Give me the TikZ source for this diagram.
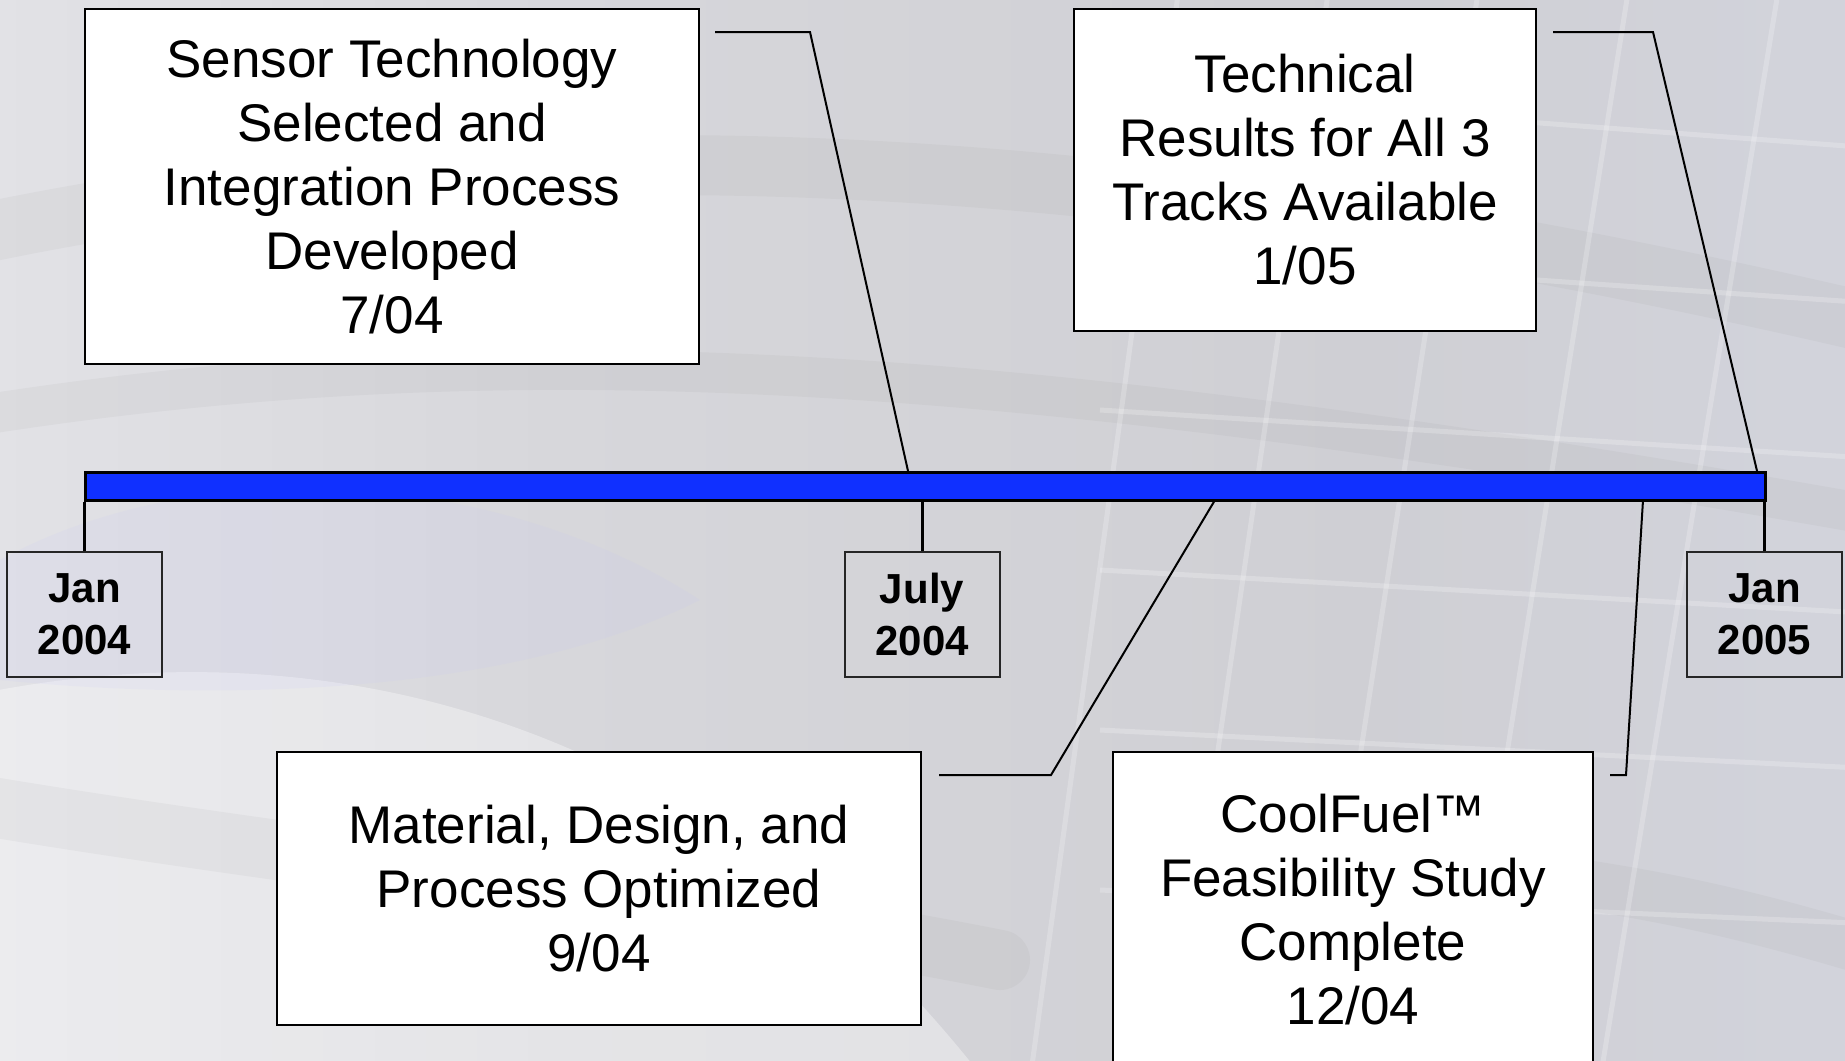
\documentclass[tikz,border=0pt]{standalone}
\usepackage{fontspec}
\setmainfont{Liberation Sans}
\definecolor{barblue}{HTML}{1030FF}
\definecolor{bgA}{HTML}{F0EFF3}
\definecolor{bgB}{HTML}{E9E9ED}
\definecolor{bgC}{HTML}{D7D7DB}
\definecolor{bgD}{HTML}{CFCFD4}
\definecolor{bgE}{HTML}{D8DCEA}
\pgfdeclarehorizontalshading{backdrop}{100bp}{
  color(0bp)=(bgA);
  color(15bp)=(bgB);
  color(40bp)=(bgC);
  color(62bp)=(bgD);
  color(100bp)=(bgE)}
\tikzset{
  event/.style={draw=black, fill=white, line width=1pt, align=center, inner sep=0pt,
    font=\fontsize{26.5}{32}\selectfont},
  datebox/.style={draw=black!85, line width=1pt, align=center, inner sep=0pt,
    minimum width=77.5pt, minimum height=62.5pt,
    font=\fontsize{21}{26}\selectfont\bfseries},
  callout/.style={line width=1pt, line join=miter},
  tick/.style={line width=1.5pt},
  gridline/.style={white, line width=2.5pt, opacity=0.22},
  swoosh/.style={line cap=round, opacity=0.07},
}
\begin{document}
\begin{tikzpicture}[x=0.5pt, y=-0.5pt]
\useasboundingbox (0,0) rectangle (1845,1060);

% backdrop
\shade[shading=backdrop] (0,0) rectangle (1845,1060);
\begin{scope}
  \clip (0,0) rectangle (1845,1060);
  % lighter lower-left glow
  \fill[white, opacity=0.35] (-50,700) .. controls (300,620) and (700,700) .. (1000,1100) -- (-50,1100) -- cycle;
  % soft diagonal bands
  \draw[swoosh, gray, line width=30pt] (-50,240) .. controls (500,120) and (1100,140) .. (1900,330);
  \draw[swoosh, gray, line width=20pt] (-50,420) .. controls (500,330) and (1000,360) .. (1900,520);
  \draw[swoosh, gray, line width=30pt] (-50,800) .. controls (300,860) and (700,900) .. (1000,960);
  \draw[swoosh, gray, line width=25pt] (1550,880) .. controls (1700,900) and (1800,930) .. (1900,960);
  \fill[blue!25, opacity=0.10] (0,560) .. controls (200,450) and (500,470) .. (700,600)
      .. controls (500,700) and (200,700) .. (0,680) -- cycle;
  % faint grid on the right
  \foreach \x/\d in {1180/150,1330/160,1480/170,1630/175,1780/180}
    \draw[gridline] (\x,-20) -- (\x-\d,1080);
  \foreach \y/\d in {90/60,250/55,410/50,570/45,730/40,890/35}
    \draw[gridline] (1100,\y) -- (1900,\y+\d);
\end{scope}

% timeline bar
\node[draw=black, fill=barblue, line width=1.5pt, minimum width=840pt, minimum height=14pt,
  inner sep=0pt] (bar) at (925,486) {};

% date markers
\node[datebox] (jan04) at (84.5,614.5) {Jan\\2004};
\node[datebox] (jul04) at (922,614.5) {July\\2004};
\node[datebox] (jan05) at (1764.5,614.5) {Jan\\2005};
\draw[tick] (jan04.north) -- (jan04.north |- bar.south);
\draw[tick] (jul04.north) -- (jul04.north |- bar.south);
\draw[tick] (jan05.north) -- (jan05.north |- bar.south);

% milestones
\node[event, minimum width=307pt, minimum height=177.5pt] (sensor) at (392,186.5)
  {Sensor Technology\\Selected and\\Integration Process\\Developed\\7/04};
\node[event, minimum width=231pt, minimum height=161pt] (results) at (1305,170)
  {Technical\\Results for All 3\\Tracks Available\\1/05};
\node[event, minimum width=322pt, minimum height=136.5pt] (material) at (599,888.5)
  {Material, Design, and\\Process Optimized\\9/04};
\node[event, minimum width=240pt, minimum height=158pt] (coolfuel) at (1353,910)
  {CoolFuel™\\Feasibility Study\\Complete\\12/04};

% callout leaders
\coordinate (s1) at (715,32);   \coordinate (k1) at (810,32);   \coordinate (e1) at (908,471);
\coordinate (s2) at (1553,32);  \coordinate (k2) at (1653,32);  \coordinate (e2) at (1757,471);
\coordinate (s3) at (939,775);  \coordinate (k3) at (1051,775); \coordinate (e3) at (1215,500);
\coordinate (s4) at (1610,775); \coordinate (k4) at (1626,775); \coordinate (e4) at (1643,500);
\draw[callout] (s1) -- (k1) -- (e1);
\draw[callout] (s2) -- (k2) -- (e2);
\draw[callout] (s3) -- (k3) -- (e3);
\draw[callout] (s4) -- (k4) -- (e4);
\end{tikzpicture}
\end{document}
